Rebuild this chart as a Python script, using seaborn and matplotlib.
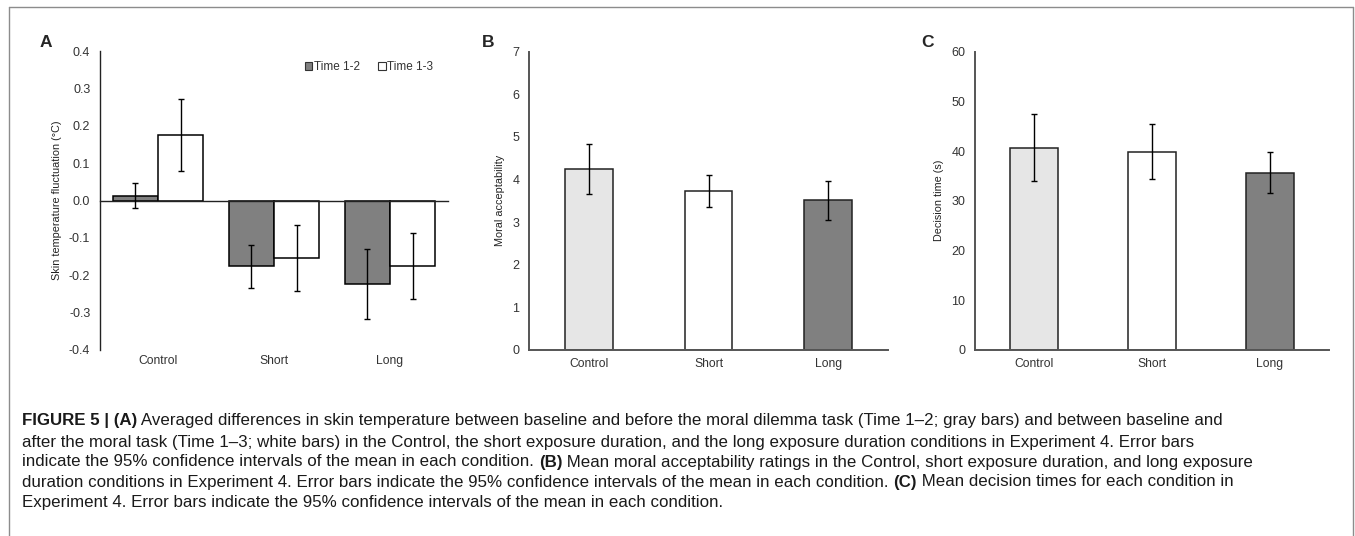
import numpy as np
import pandas as pd
import matplotlib
matplotlib.use('Agg')
import matplotlib.pyplot as plt
from matplotlib.patches import Patch
from matplotlib.lines import Line2D
import matplotlib.transforms as mtransforms
import seaborn as sns

# ---- data ----
conditions = ['Control', 'Short', 'Long']

# panel A: skin temperature fluctuation (°C)
time_levels = ['Time 1-2', 'Time 1-3']
temp_12 = [0.012, -0.176, -0.223]
temp_12_lo = [-0.020, -0.234, -0.317]
temp_12_hi = [0.046, -0.120, -0.130]
temp_13 = [0.175, -0.154, -0.176]
temp_13_lo = [0.078, -0.241, -0.263]
temp_13_hi = [0.272, -0.066, -0.087]

# panel B: moral acceptability
moral = [4.25, 3.73, 3.51]
moral_lo = [3.67, 3.35, 3.06]
moral_hi = [4.82, 4.11, 3.97]

# panel C: decision time (s)
dtime = [40.7, 39.8, 35.5]
dtime_lo = [33.9, 34.3, 31.6]
dtime_hi = [47.5, 45.4, 39.8]

caption_lines = [
    [("FIGURE 5 | (A)", True),
     (" Averaged differences in skin temperature between baseline and before the moral dilemma task (Time 1\u20132; gray bars) and between baseline and", False)],
    [("after the moral task (Time 1\u20133; white bars) in the Control, the short exposure duration, and the long exposure duration conditions in Experiment 4. Error bars", False)],
    [("indicate the 95% confidence intervals of the mean in each condition. ", False), ("(B)", True),
     (" Mean moral acceptability ratings in the Control, short exposure duration, and long exposure", False)],
    [("duration conditions in Experiment 4. Error bars indicate the 95% confidence intervals of the mean in each condition. ", False),
     ("(C)", True), (" Mean decision times for each condition in", False)],
    [("Experiment 4. Error bars indicate the 95% confidence intervals of the mean in each condition.", False)],
]

sns.set_theme(style='white')
plt.rcParams['font.family'] = ['Liberation Sans', 'DejaVu Sans']

W, H = 1355, 536
fig = plt.figure(figsize=(W / 100, H / 100), dpi=100)
fig.patch.set_facecolor('white')


def px_axes(x0, x1, y_top, y_bot):
    return fig.add_axes([x0 / W, 1 - y_bot / H, (x1 - x0) / W, (y_bot - y_top) / H])


def add_err(ax, xs, vals, lo, hi):
    vals = np.asarray(vals)
    yerr = [vals - np.asarray(lo), np.asarray(hi) - vals]
    ax.errorbar(xs, vals, yerr=yerr, fmt='none', ecolor='black', elinewidth=1.0,
                capsize=2.5, capthick=1.0, zorder=5)


def bar_centers(container):
    return [p.get_x() + p.get_width() / 2 for p in container.patches]


tick_kw = dict(labelsize=9, colors='#333333', length=3.5, width=1.0, direction='out')

# ---------------- panel A ----------------
axA = px_axes(100, 448, 51, 350)
dfA = pd.DataFrame({
    'condition': conditions * 2,
    'time': [time_levels[0]] * 3 + [time_levels[1]] * 3,
    'value': temp_12 + temp_13,
})
sns.barplot(data=dfA, x='condition', y='value', hue='time', order=conditions,
            hue_order=time_levels, palette={time_levels[0]: '#808080', time_levels[1]: 'white'},
            edgecolor='black', linewidth=1.1, width=0.78, gap=0, errorbar=None,
            legend=False, ax=axA)
add_err(axA, bar_centers(axA.containers[0]), temp_12, temp_12_lo, temp_12_hi)
add_err(axA, bar_centers(axA.containers[1]), temp_13, temp_13_lo, temp_13_hi)
axA.set_ylim(-0.4, 0.4)
axA.set_xlim(-0.5, 2.5)
yt = np.round(np.arange(-0.4, 0.41, 0.1), 1) + 0.0
axA.set_yticks(yt)
axA.set_yticklabels([f"{v + 0.0:.1f}".replace('-0.0', '0.0') for v in yt])
axA.set_xticks([0.5, 1.5])
axA.set_xticklabels([])
for s in ['top', 'right']:
    axA.spines[s].set_visible(False)
axA.spines['bottom'].set_position(('data', 0))
axA.spines['left'].set_color('#222222')
axA.spines['bottom'].set_color('#222222')
axA.spines['left'].set_linewidth(1.0)
axA.spines['bottom'].set_linewidth(1.0)
axA.tick_params(axis='both', **tick_kw)
axA.set_xlabel('')
axA.set_ylabel('Skin temperature fluctuation (\u00b0C)', fontsize=7.8, color='#222222', labelpad=5)
trA = mtransforms.blended_transform_factory(axA.transData, axA.transAxes)
for i, c in enumerate(conditions):
    axA.text(i, -0.037, c, transform=trA, ha='center', va='center', fontsize=8.7, color='#333333')
handles = [Patch(facecolor='#808080', edgecolor='#333333', linewidth=0.8, label=time_levels[0]),
           Patch(facecolor='white', edgecolor='#333333', linewidth=0.8, label=time_levels[1])]
axA.legend(handles=handles, loc='center left', bbox_to_anchor=(0.575, 0.945), ncol=2, frameon=False,
           fontsize=8.5, handlelength=0.65, handleheight=0.65, handletextpad=0.15,
           columnspacing=1.5, borderaxespad=0, labelcolor='#333333')

# ---------------- panel B & C ----------------
single_palette = ['#e6e6e6', 'white', '#808080']


def single_panel(x0, x1, vals, lo, hi, ymax, step, ylabel):
    ax = px_axes(x0, x1, 51.5, 350)
    sns.barplot(x=conditions, y=vals, hue=conditions, palette=single_palette, legend=False,
                edgecolor='#222222', linewidth=1.1, width=0.4, errorbar=None, ax=ax)
    centers = [c for cont in ax.containers for c in bar_centers(cont)]
    add_err(ax, centers, vals, lo, hi)
    ax.set_ylim(0, ymax)
    ax.set_xlim(-0.5, 2.5)
    ax.set_yticks(np.arange(0, ymax + step / 2, step))
    for s in ['top', 'right']:
        ax.spines[s].set_visible(False)
    for s in ['left', 'bottom']:
        ax.spines[s].set_color('#555555')
        ax.spines[s].set_linewidth(1.4)
    ax.tick_params(axis='y', **tick_kw)
    ax.tick_params(axis='x', labelsize=8.7, colors='#333333', length=0, pad=6)
    ax.set_ylabel(ylabel, fontsize=7.8, color='#222222', labelpad=5)
    return ax


axB = single_panel(529, 888, moral, moral_lo, moral_hi, 7, 1, 'Moral acceptability')
axC = single_panel(975, 1329, dtime, dtime_lo, dtime_hi, 60, 10, 'Decision time (s)')

# panel letters
for letter, xp in [('A', 40), ('B', 482), ('C', 921)]:
    fig.text(xp / W, 1 - 42 / H, letter, fontsize=12.5, fontweight='bold', ha='left', va='center')

# frame around the figure (open at the bottom)
frame_col = '#8c8c8c'
fig.add_artist(Line2D([9 / W, 9 / W], [0, 1 - 7 / H], transform=fig.transFigure, color=frame_col, lw=1.0))
fig.add_artist(Line2D([9 / W, 1353 / W], [1 - 7 / H, 1 - 7 / H], transform=fig.transFigure, color=frame_col, lw=1.0))
fig.add_artist(Line2D([1353 / W, 1353 / W], [0, 1 - 7 / H], transform=fig.transFigure, color=frame_col, lw=1.0))

# caption, written piece by piece so bold parts sit inline
renderer = fig.canvas.get_renderer()
cap_size = 12.2
line_y = [421, 442, 462, 482, 502]
for segs, yp in zip(caption_lines, line_y):
    xp = 22
    for txt, bold in segs:
        t = fig.text(xp / W, 1 - yp / H, txt, fontsize=cap_size, ha='left', va='center',
                     fontweight='bold' if bold else 'normal', color='#1a1a1a')
        bb = t.get_window_extent(renderer=renderer)
        xp += bb.width

fig.savefig('out.png', dpi=100, facecolor='white')
